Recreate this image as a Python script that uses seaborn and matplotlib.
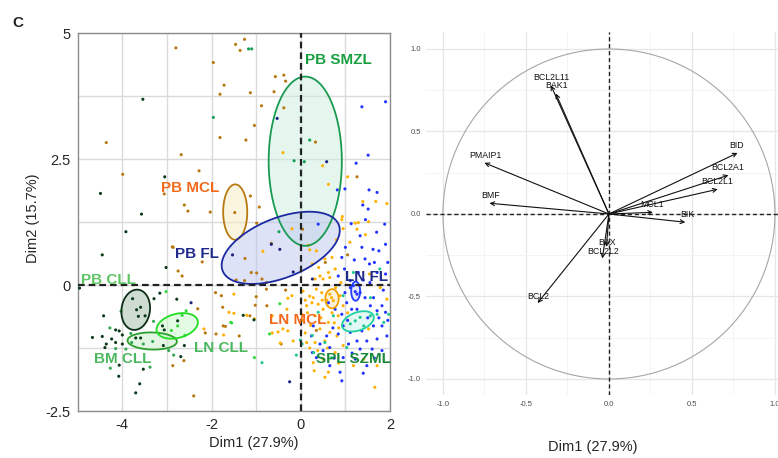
import numpy as np
import pandas as pd
import matplotlib
matplotlib.use("Agg")
from matplotlib import pyplot as plt
from matplotlib.patches import Polygon, Circle
import seaborn as sns

# ---- individuals (left panel) ----
pb_mcl = [(-2.80, 4.71), (-1.46, 4.78), (-1.96, 4.42), (-1.72, 3.97), (-1.81, 3.79), (-1.81, 2.93),
          (-4.36, 2.83), (-2.68, 2.59), (-2.28, 2.27), (-3.99, 2.20), (-3.06, 1.81), (-2.61, 1.59),
          (-2.53, 1.47), (-2.03, 1.45), (-1.48, 1.44), (-1.26, 4.88), (-1.36, 4.66), (-0.57, 4.14),
          (-0.38, 4.17), (-0.34, 4.05), (-1.13, 3.82), (-0.60, 3.84), (-0.88, 3.56), (-0.38, 3.52),
          (-1.04, 3.17), (-1.23, 2.88), (0.33, 2.84), (1.26, 2.15), (-1.13, 1.77), (-0.93, 1.55),
          (-0.99, 1.23), (-2.75, 0.28), (-2.66, 0.18), (-2.86, 0.75), (-2.21, 0.46), (-2.31, -0.47),
          (-2.88, 0.76), (-2.87, -1.60), (-2.40, -2.20), (-2.14, -0.95), (-1.90, -0.97), (-1.74, -0.81),
          (-1.69, -0.82), (-1.75, -0.44), (-1.91, -0.15), (-1.78, -0.21), (-2.62, -1.50), (-1.25, 0.53),
          (-0.66, 0.83), (-1.11, 0.25), (-0.99, 0.24), (-0.87, 0.12), (-1.26, 0.09), (-1.45, 0.10),
          (-0.77, 0.05), (0.04, 1.11), (-0.77, -0.08), (-1.00, -0.23), (-1.02, -0.40), (-0.76, -0.41),
          (-1.14, -0.61), (-1.38, -1.01), (-0.34, -0.10), (-0.44, -1.17), (0.55, 0.45), (1.05, 0.60),
          (0.35, -0.90)]
ln_mcl = [(-0.40, 2.63), (0.49, 2.37), (1.05, 2.15), (0.62, 2.00), (1.39, 1.66), (1.68, 1.66),
          (1.93, 1.62), (0.93, 1.36), (0.92, 1.30), (1.22, 1.23), (1.29, 1.24), (1.52, 1.26),
          (-0.20, 1.12), (-2.17, -0.87), (-1.73, -0.99), (-1.61, -0.54), (-1.50, -0.56), (-1.50, -0.18),
          (-1.04, -0.67), (-0.85, 0.67), (0.17, 0.79), (0.20, 0.70), (-1.21, -0.60), (-0.29, -0.26),
          (-0.20, -0.21), (-0.31, -0.48), (-0.64, -0.61), (-0.64, -0.95), (-0.51, -0.93), (-0.40, -0.87),
          (-0.29, -0.91), (-0.17, -1.11), (-0.46, -1.15), (0.13, -0.41), (0.02, -0.58), (0.13, -1.14),
          (0.28, -1.54), (0.95, 1.12), (1.26, 1.11), (0.43, 0.18), (0.50, 0.12), (0.65, 0.15),
          (0.32, 0.12), (0.62, 0.25), (0.77, 0.32), (0.35, 0.68), (0.54, 0.52), (0.26, 0.42),
          (1.54, 0.22), (0.35, -0.08), (0.47, -0.15), (0.28, -0.25), (0.39, -0.38), (0.50, -0.48),
          (0.32, -0.61), (0.88, -0.21), (0.95, -0.41), (0.84, -0.61), (0.62, -0.74), (0.43, -0.87),
          (0.65, -0.94), (0.81, -1.01), (0.54, -1.11), (0.32, -1.14), (0.95, -1.20), (0.77, -1.34),
          (0.50, -1.47), (0.62, -1.73), (0.54, -1.83), (1.18, -1.60), (1.41, -1.47), (1.71, -1.60),
          (1.78, -0.05), (1.93, -0.28), (1.52, -0.87), (1.66, -2.03), (0.65, -0.18), (0.69, -0.25),
          (0.73, -0.31), (0.05, -0.12), (0.10, -0.30), (0.20, -0.22), (0.15, -0.55), (0.05, -0.70),
          (0.22, -0.80), (0.10, -0.95), (0.25, -0.35), (0.58, -0.30), (0.78, -0.05), (0.45, -0.65),
          (0.70, -0.55), (0.38, -1.30), (0.60, -1.25), (0.85, -0.85), (0.90, 0.05), (0.40, 0.35),
          (0.70, 0.55), (1.10, 0.85), (0.80, 0.90), (1.45, 1.00), (0.30, -1.70), (0.85, -1.55),
          (1.05, -0.55), (0.20, -1.25), (0.48, -0.30), (0.75, -0.75)]
pb_cll = [(-3.54, 3.69), (-3.05, 2.15), (-4.49, 1.82), (-3.57, 1.41), (-3.92, 1.06), (-4.45, 0.60),
          (-3.02, 0.35), (-4.96, -0.06), (-3.77, -0.27), (-3.68, -0.49), (-3.59, -0.44), (-3.49, -0.61),
          (-3.64, -0.62), (-4.42, -0.61), (-3.29, -0.27), (-3.16, -0.16), (-2.78, -0.28), (-3.10, -0.81),
          (-3.06, -0.89), (-4.67, -1.04), (-4.45, -1.02), (-4.15, -0.89), (-4.07, -0.91), (-4.00, -0.99),
          (-3.70, -1.05), (-3.59, -1.05), (-4.24, -1.07), (-4.36, -1.17), (-4.15, -1.14), (-4.00, -1.17),
          (-4.39, -1.24), (-3.08, -1.20), (-2.69, -1.42), (-2.61, -1.20), (-2.76, -0.71), (-4.07, -1.59),
          (-3.53, -1.67), (-4.08, -1.81), (-3.61, -1.96), (-3.70, -2.14), (-1.29, -0.60), (-1.05, -0.69)]
bm_cll = [(-4.03, -0.52), (-4.28, -0.85), (-3.81, -0.96), (-3.79, -1.14), (-3.53, -1.17), (-3.32, -1.12),
          (-4.15, -1.26), (-3.92, -1.27), (-2.96, -1.30), (-2.85, -1.39), (-4.27, -1.65), (-3.38, -1.63),
          (-3.30, -0.72)]
ln_cll = [(-3.02, -0.13), (-2.57, -0.51), (-2.66, -0.60), (-2.76, -0.81), (-1.57, -0.74), (-1.04, -1.44),
          (-1.55, -0.75), (-0.47, -0.37), (-0.70, -0.97), (-2.90, -0.90), (-2.60, -1.00)]
pb_fl = [(-2.46, -0.35), (-1.53, 0.60), (-0.66, 0.81), (-0.47, 0.71), (-0.17, 0.26), (0.26, 0.12),
         (-0.53, 3.31), (0.58, 2.45), (-0.25, -1.92)]
ln_fl = [(1.24, 2.42), (1.90, 3.64), (1.37, 3.54), (1.51, 2.58), (0.82, 1.89), (0.99, 1.91),
         (1.53, 1.89), (1.71, 1.84), (1.39, 1.59), (1.51, 1.51), (1.13, 1.22), (1.45, 1.30),
         (1.88, 1.21), (0.39, 1.21), (0.26, -1.34), (1.33, 0.98), (1.37, 0.75), (1.62, 0.71),
         (1.75, 0.68), (1.90, 0.81), (1.44, 0.52), (1.54, 0.42), (1.65, 0.45), (1.71, 0.25),
         (0.92, 0.55), (0.98, 0.32), (0.84, 0.18), (1.29, 0.25), (1.11, 0.09), (1.90, 0.22),
         (1.11, -0.05), (0.99, -0.15), (1.33, -0.15), (1.44, -0.25), (1.63, -0.25), (1.82, -0.41),
         (1.90, -0.54), (1.71, -0.51), (1.56, -0.41), (1.03, -0.35), (1.14, -0.48), (0.92, -0.58),
         (0.77, -0.48), (0.62, -0.35), (0.95, -0.81), (0.84, -0.97), (1.11, -0.94), (1.37, -0.91),
         (1.63, -0.81), (1.82, -0.81), (1.93, -1.01), (1.71, -1.07), (1.48, -1.11), (1.26, -1.11),
         (1.07, -1.17), (0.58, -1.01), (0.43, -1.17), (0.65, -1.24), (1.33, -1.27), (1.60, -1.27),
         (1.82, -1.30), (0.95, -1.44), (1.22, -1.47), (1.48, -1.60), (0.88, -1.73), (0.92, -1.90),
         (0.65, -1.60), (0.35, -1.44), (0.28, -0.81), (0.24, -1.01), (1.26, -0.48), (1.18, -0.01),
         (1.22, -0.13), (1.26, -0.18), (1.55, 0.05), (1.85, -0.10), (1.40, 0.10), (1.00, 0.75),
         (1.20, 0.50), (1.70, 1.05), (1.95, 0.45), (1.50, -0.65), (1.75, -0.65), (1.05, -0.70),
         (0.72, -0.85), (1.15, -1.35), (1.40, -1.75), (1.65, -1.45), (0.75, -1.45), (0.50, -1.30),
         (1.95, -0.70)]
pb_smzl = [(-1.96, 3.33), (-1.17, 4.69), (-1.10, 4.69), (0.20, 2.88), (-0.15, 2.47), (0.08, 2.45),
           (-0.49, 1.06)]
spl_szml = [(-0.01, -1.09), (0.03, -1.17), (-0.10, -1.39), (-0.87, -1.54), (0.26, -1.00), (1.22, -0.71),
            (1.33, -0.64), (1.41, -0.81), (1.11, -0.77), (1.56, -0.61), (1.71, -0.58), (0.73, -0.61),
            (0.54, -1.14), (1.03, -1.24), (1.86, -0.74), (1.97, -0.58), (0.95, -0.21), (0.39, -0.54),
            (0.29, -1.34), (0.69, -1.44), (1.56, -0.25), (1.77, 0.32), (1.18, 0.25)]

points = {"PB MCL": pb_mcl, "LN MCL": ln_mcl, "PB CLL": pb_cll, "BM CLL": bm_cll, "LN CLL": ln_cll,
          "PB FL": pb_fl, "LN FL": ln_fl, "PB SMZL": pb_smzl, "SPL SZML": spl_szml}

point_colors = {"PB MCL": "#b8770e", "LN MCL": "#ffb000", "PB CLL": "#0b3a1a", "BM CLL": "#33a852",
                "LN CLL": "#2fdc3a", "PB FL": "#1a237e", "LN FL": "#2233ff", "PB SMZL": "#12a055",
                "SPL SZML": "#20c890"}

# confidence ellipses: centre and the two semi-axis vectors (data units)
ell_center = {"PB SMZL": (0.10, 2.46), "PB MCL": (-1.47, 1.45), "PB FL": (-0.45, 0.74),
              "PB CLL": (-3.70, -0.49), "BM CLL": (-3.33, -1.11), "LN CLL": (-2.77, -0.81),
              "LN MCL": (0.70, -0.27), "LN FL": (1.23, -0.12), "SPL SZML": (1.28, -0.72)}
ell_u = {"PB SMZL": (0.82, 0.0), "PB MCL": (0.27, 0.0), "PB FL": (1.30, 0.46), "PB CLL": (0.32, 0.0),
         "BM CLL": (0.553, -0.01), "LN CLL": (0.458, 0.108), "LN MCL": (0.15, 0.0), "LN FL": (0.10, 0.0),
         "SPL SZML": (0.35, 0.112)}
ell_v = {"PB SMZL": (0.0, 1.68), "PB MCL": (0.0, 0.55), "PB FL": (-0.25, 0.55), "PB CLL": (0.03, 0.40),
         "BM CLL": (0.0, 0.17), "LN CLL": (-0.070, 0.230), "LN MCL": (0.0, 0.19), "LN FL": (0.0, 0.19),
         "SPL SZML": (-0.069, 0.168)}
ell_edge = {"PB SMZL": "#1a9a50", "PB MCL": "#b87a10", "PB FL": "#1c2aa0", "PB CLL": "#0d2e17",
            "BM CLL": "#2ca02c", "LN CLL": "#22dd22", "LN MCL": "#f0a000", "LN FL": "#1f3cff",
            "SPL SZML": "#20d0a0"}
ell_fill = {"PB SMZL": "#cdeee0", "PB MCL": "#f6ecc0", "PB FL": "#bcc6f0", "PB CLL": "#9fbba6",
            "BM CLL": "#c8ecc8", "LN CLL": "#c8f6c8", "LN MCL": "#fbe6b8", "LN FL": "#c8d0ff",
            "SPL SZML": "#c6f2e6"}

# group labels
lab_pos = {"PB SMZL": (0.84, 4.46), "PB MCL": (-2.47, 1.93), "PB FL": (-2.32, 0.61),
           "PB CLL": (-4.31, 0.10), "BM CLL": (-4.00, -1.46), "LN CLL": (-1.79, -1.24),
           "LN MCL": (-0.07, -0.69), "LN FL": (1.47, 0.165), "SPL SZML": (1.17, -1.46)}
lab_color = {"PB SMZL": "#18a040", "PB MCL": "#f26a1b", "PB FL": "#1f2a8c", "PB CLL": "#5ec464",
             "BM CLL": "#4cb860", "LN CLL": "#4cb860", "LN MCL": "#f26a1b", "LN FL": "#1f2a8c",
             "SPL SZML": "#1a8a3a"}

# ---- variables (right panel) ----
var_names = ["BCL2L11", "BAK1", "PMAIP1", "BMF", "BID", "BCL2A1", "BCL2L1", "MCL1", "BIK", "BAX",
             "BCL2L2", "BCL2"]
var_x = [-0.35, -0.32, -0.75, -0.72, 0.775, 0.72, 0.655, 0.265, 0.46, -0.015, -0.04, -0.43]
var_y = [0.78, 0.73, 0.31, 0.065, 0.37, 0.235, 0.15, 0.01, -0.05, -0.20, -0.27, -0.54]
lab_x = [-0.345, -0.315, -0.745, -0.715, 0.77, 0.717, 0.65, 0.26, 0.47, -0.01, -0.035, -0.425]
lab_y = [0.825, 0.78, 0.355, 0.11, 0.415, 0.28, 0.195, 0.055, -0.005, -0.175, -0.225, -0.50]

rows = []
for g, pts in points.items():
    for x, y in pts:
        rows.append({"group": g, "Dim1": x, "Dim2": y})
df = pd.DataFrame(rows)

sns.set_style("white")
plt.rcParams["font.family"] = ["Liberation Sans", "DejaVu Sans"]

fig = plt.figure(figsize=(7.78, 4.58), dpi=100)
ax1 = fig.add_axes([0.0999, 0.1026, 0.4014, 0.8247])
ax2 = fig.add_axes([0.548, 0.1365, 0.4694, 0.7926])

# left panel
t = np.linspace(0, 2 * np.pi, 200)
for g in ell_center:
    cx, cy = ell_center[g]
    u = np.array(ell_u[g])
    v = np.array(ell_v[g])
    xy = np.column_stack([cx + np.cos(t) * u[0] + np.sin(t) * v[0],
                          cy + np.cos(t) * u[1] + np.sin(t) * v[1]])
    ax1.add_patch(Polygon(xy, closed=True, facecolor=ell_fill[g], alpha=0.5, edgecolor="none", zorder=2))
    ax1.add_patch(Polygon(xy, closed=True, facecolor="none", edgecolor=ell_edge[g], lw=1.3, zorder=4))

sns.scatterplot(data=df, x="Dim1", y="Dim2", hue="group", palette=point_colors, s=5,
                linewidth=0, legend=False, ax=ax1, zorder=3)

ax1.axhline(0, color="#222222", ls=(0, (3, 1.8)), lw=1.6, zorder=5)
ax1.axvline(0, color="#222222", ls=(0, (3, 1.8)), lw=1.6, zorder=5)

for g, (x, y) in lab_pos.items():
    ax1.text(x, y, g, color=lab_color[g], fontsize=11, fontweight="bold", ha="center", va="center", zorder=6)

ax1.set_xlim(-5, 2)
ax1.set_ylim(-2.5, 5)
ax1.set_xticks([-4, -2, 0, 2])
ax1.set_xticklabels(["-4", "-2", "0", "2"])
ax1.set_yticks([-2.5, 0, 2.5, 5])
ax1.set_yticklabels(["-2.5", "0", "2.5", "5"])
ax1.set_xticks([-3, -1, 1], minor=True)
ax1.set_yticks([-1.25, 1.25, 3.75], minor=True)
ax1.grid(True, which="both", color="#dadada", lw=1.0)
ax1.set_axisbelow(True)
ax1.tick_params(which="major", labelsize=10.5, length=3, color="#333333", pad=2)
ax1.tick_params(which="minor", length=0)
for s in ax1.spines.values():
    s.set_color("#8c8c8c")
    s.set_linewidth(1.0)
ax1.set_xlabel("Dim1 (27.9%)", fontsize=10.5)
ax1.set_ylabel("Dim2 (15.7%)", fontsize=10.5)
ax1.xaxis.set_label_coords(0.565, -0.066)
ax1.yaxis.set_label_coords(-0.121, 0.511)

# right panel
ax2.add_patch(Circle((0, 0), 1.0, fill=False, edgecolor="#a6a6a6", lw=0.8, zorder=2))
ax2.axhline(0, color="#222222", ls=(0, (3, 2)), lw=1.0, zorder=3)
ax2.axvline(0, color="#222222", ls=(0, (3, 2)), lw=1.0, zorder=3)
for name, x, y, tx, ty in zip(var_names, var_x, var_y, lab_x, lab_y):
    ax2.annotate("", xy=(x, y), xytext=(0, 0),
                 arrowprops=dict(arrowstyle="->", color="#111111", lw=0.8, shrinkA=0, shrinkB=0,
                                 mutation_scale=7), zorder=4)
    ax2.text(tx, ty, name, fontsize=6.3, color="#111111", ha="center", va="center", zorder=5)

ax2.set_xlim(-1.1, 1.1)
ax2.set_ylim(-1.1, 1.1)
ax2.set_xticks([-1.0, -0.5, 0.0, 0.5, 1.0])
ax2.set_yticks([-1.0, -0.5, 0.0, 0.5, 1.0])
ax2.set_xticklabels(["-1.0", "-0.5", "0.0", "0.5", "1.0"])
ax2.set_yticklabels(["-1.0", "-0.5", "0.0", "0.5", "1.0"])
ax2.set_xticks([-0.75, -0.25, 0.25, 0.75], minor=True)
ax2.set_yticks([-0.75, -0.25, 0.25, 0.75], minor=True)
ax2.grid(True, which="major", color="#e6e6e6", lw=0.9)
ax2.grid(True, which="minor", color="#f2f2f2", lw=0.6)
ax2.set_axisbelow(True)
ax2.tick_params(which="major", labelsize=5.5, labelcolor="#4d4d4d", length=2, color="#4d4d4d", pad=2)
ax2.tick_params(which="minor", length=0)
for s in ax2.spines.values():
    s.set_visible(False)
ax2.set_xlabel("Dim1 (27.9%)", fontsize=10.5)
ax2.xaxis.set_label_coords(0.456, -0.123)

fig.text(0.023, 0.95, "C", fontsize=11, fontweight="bold", ha="center", va="center")

fig.savefig("out.png", dpi=100)
